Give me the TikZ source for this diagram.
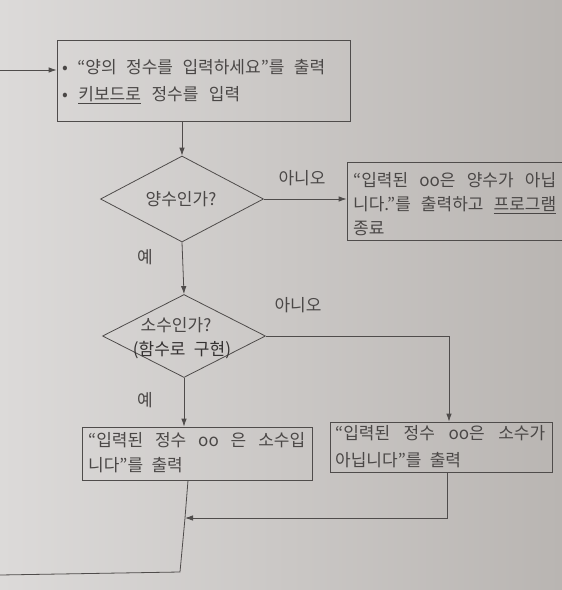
\documentclass[tikz,border=0pt]{standalone}
\usepackage{fontspec}
\setmainfont{Noto Sans CJK KR}[WordSpace=2.2]
\usetikzlibrary{shapes.geometric,arrows.meta}
\definecolor{ink}{HTML}{4A4746}
\definecolor{inkdark}{HTML}{353232}
\definecolor{linec}{HTML}{4F4C4B}
\definecolor{paperL}{HTML}{DCDAD9}
\definecolor{paperR}{HTML}{B9B5B2}
\tikzset{
 box/.style={draw=linec, line width=0.8pt, rectangle, inner sep=0pt},
 dia/.style={draw=linec, line width=0.8pt, diamond, inner sep=0pt, minimum width=163pt},
 txt/.style={text=ink, inner sep=0pt, align=left, anchor=west},
 lbl/.style={text=ink, font=\fontsize{17}{20}\selectfont, inner sep=0pt},
 conn/.style={draw=linec, line width=0.8pt},
 arr/.style={conn, -{Latex[length=8pt,width=5.5pt]}},
}
\begin{document}
\begin{tikzpicture}[x=1pt,y=-1pt]
\useasboundingbox (0,0) rectangle (562,590);
\clip (0,0) rectangle (562,590);
\fill[left color=paperL, right color=paperR] (0,0) rectangle (562,590);

% boxes
\node[box, minimum width=293pt, minimum height=81pt] (top) at (203.5,80.5) {};
\node[txt, font=\fontsize{17}{27}\selectfont] (toptxt) at (62,81.5)
  {\makebox[263pt][s]{• “양의 정수를 입력하세요”를 출력}\\\makebox[178pt][s]{• \underline{키보드로} 정수를 입력}};

\node[box, minimum width=216pt, minimum height=78pt] (r1) at (455,201) {};
\node[txt, font=\fontsize{17}{24}\selectfont] (r1txt) at (353,204)
  {\makebox[203pt][s]{“입력된 oo은 양수가 아닙}\\\makebox[203pt][s]{니다.”를 출력하고 \underline{프로그램}}\\종료};

\node[box, minimum width=230pt, minimum height=53pt] (A) at (197,453.5) {};
\node[txt, font=\fontsize{17}{25}\selectfont] (Atxt) at (88,452.5)
  {\makebox[217pt][s]{“입력된 정수 oo 은 소수입}\\니다”를 출력};

\node[box, minimum width=222pt, minimum height=50pt] (B) at (441,447) {};
\node[txt, font=\fontsize{17}{27}\selectfont] (Btxt) at (335,446.5)
  {\makebox[210pt][s]{“입력된 정수 oo은 소수가}\\아닙니다”를 출력};

% diamonds
\node[dia, minimum height=86pt] (d1) at (182,199) {};
\node[lbl] (d1t) at (181,199) {양수인가?};
\node[dia, minimum height=83pt] (d2) at (184,336) {};
\node[lbl] (d2t) at (176,325) {소수인가?};
\node[lbl, text=inkdark] (d2b) at (182,350) {(함수로 구현)};

% labels
\node[lbl] (no1) at (302,178) {아니오};
\node[lbl] (yes1) at (145,257) {예};
\node[lbl] (no2) at (298,305) {아니오};
\node[lbl] (yes2) at (145,400) {예};

% connectors
\coordinate (in) at (0,70);
\draw[arr] (in) -- (in -| top.west);
\draw[arr] (top.south -| d1.north) -- (d1.north);
\draw[arr] (d1.east) -- (d1.east -| r1.west);
\draw[arr] (d1.south) -- (d2.north);
\draw[arr] (d2.east) -| ([xshift=8pt]B.north);
\draw[arr] (d2.south) -- (d2.south |- A.north);
\coordinate (merge) at (185,518);
\coordinate (corner) at (180,572);
\coordinate (out) at (0,575);
\draw[arr] ([xshift=6pt]B.south) |- (merge);
\draw[conn] (A.south -| 188,0) -- (merge) -- (corner) -- (out);
\end{tikzpicture}
\end{document}
